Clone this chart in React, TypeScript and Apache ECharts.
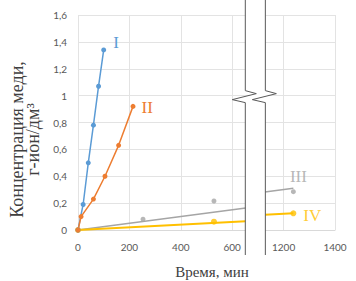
import React, { useEffect, useRef } from "react";
import * as echarts from "echarts";

// Measured points (time in minutes, concentration)
const timeI = [0, 20, 40, 60, 80, 100];
const concI = [0, 0.19, 0.5, 0.78, 1.07, 1.34];
const timeII = [0, 12, 60, 105, 158, 214];
const concII = [0, 0.1, 0.23, 0.4, 0.63, 0.92];
const timeIII = [0, 253, 529, 1238];
const concIII = [0, 0.08, 0.216, 0.285];
const timeIV = [0, 529, 1238];
const concIV = [0, 0.062, 0.124];
// Linear trend lines (start at origin) for III and IV
const trendIIIEnd = [1238, 0.31];
const trendIVEnd = [1238, 0.125];

const seriesNames = ["I", "II", "III", "IV"];
const colors = ["#5B9BD5", "#ED7D31", "#A5A5A5", "#FFC000"];
const xTickLabels = ["0", "200", "400", "600", "1200", "1400"];

// axis break: real time BREAK_FROM..BREAK_TO collapsed to one display point
const BREAK_FROM = 690;
const BREAK_TO = 1090;
const BAND_HALF = 39;

const toDisplay = (t: number) => (t <= BREAK_FROM ? t : t - (BREAK_TO - BREAK_FROM));
const pts = (ts: number[], cs: number[]) => ts.map((t, i) => [toDisplay(t), cs[i]]);
const trend = (end: number[]) => {
  const k = end[1] / end[0];
  return [
    [0, 0],
    [toDisplay(BREAK_FROM), k * BREAK_FROM],
    [toDisplay(BREAK_TO), k * BREAK_TO],
    [toDisplay(end[0]), end[1]],
  ];
};

const serif = "Liberation Serif";

function withLabel(data: number[][], name: string, color: string, position: any, offset: number[]) {
  return data.map((d, i) =>
    i === data.length - 1
      ? {
          value: d,
          label: {
            show: true,
            formatter: name,
            position,
            offset,
            color,
            fontFamily: serif,
            fontSize: 17,
          },
        }
      : { value: d }
  );
}

export default function App() {
  const ref = useRef<HTMLDivElement>(null);
  useEffect(() => {
    const chart = echarts.init(ref.current!, null, { renderer: "svg" });
    const option: any = {
      animation: false,
      backgroundColor: "#fff",
      grid: { left: 78, right: 21, top: 15, bottom: 51 },
      xAxis: {
        type: "value",
        min: 0,
        max: 1000,
        interval: 200,
        axisLine: { show: true, lineStyle: { color: "#d9d9d9" } },
        axisTick: { show: false },
        splitLine: { show: true, lineStyle: { color: "#e3e3e3" } },
        axisLabel: {
          color: "#595959",
          fontSize: 10,
          fontFamily: "Lato",
          margin: 12,
          formatter: (_v: number, i: number) => xTickLabels[i] ?? "",
        },
      },
      yAxis: {
        type: "value",
        min: 0,
        max: 1.6,
        interval: 0.2,
        axisLine: { show: false },
        axisTick: { show: false },
        splitLine: { show: true, lineStyle: { color: "#e3e3e3" } },
        axisLabel: {
          color: "#595959",
          fontSize: 10,
          fontFamily: "Lato",
          margin: 11,
          formatter: (v: number) => String(+v.toFixed(1)).replace(".", ","),
        },
      },
      series: [
        {
          name: seriesNames[0],
          type: "line",
          data: withLabel(pts(timeI, concI), seriesNames[0], colors[0], "right", [2, -7]),
          symbol: "circle",
          symbolSize: 5,
          lineStyle: { color: colors[0], width: 1.5 },
          itemStyle: { color: colors[0] },
        },
        {
          name: seriesNames[1],
          type: "line",
          data: withLabel(pts(timeII, concII), seriesNames[1], colors[1], "right", [1, 1]),
          symbol: "circle",
          symbolSize: 5,
          lineStyle: { color: colors[1], width: 1.5 },
          itemStyle: { color: colors[1] },
        },
        {
          name: seriesNames[2] + " trend",
          type: "line",
          data: trend(trendIIIEnd),
          symbol: "none",
          lineStyle: { color: colors[2], width: 1.5 },
        },
        {
          name: seriesNames[2],
          type: "scatter",
          data: withLabel(pts(timeIII, concIII), seriesNames[2], colors[2], "top", [5, 1]),
          symbolSize: 5,
          itemStyle: { color: colors[2] },
        },
        {
          name: seriesNames[3] + " trend",
          type: "line",
          data: trend(trendIVEnd),
          symbol: "none",
          lineStyle: { color: colors[3], width: 2 },
        },
        {
          name: seriesNames[3],
          type: "scatter",
          data: withLabel(pts(timeIV, concIV), seriesNames[3], colors[3], "right", [2, 2]),
          symbolSize: 6,
          itemStyle: { color: colors[3] },
        },
      ],
    };
    chart.setOption(option);

    const [xl] = chart.convertToPixel({ gridIndex: 0 }, [toDisplay(BREAK_FROM) - BAND_HALF, 0]);
    const [xr] = chart.convertToPixel({ gridIndex: 0 }, [toDisplay(BREAK_FROM) + BAND_HALF, 0]);
    const [, zy] = chart.convertToPixel({ gridIndex: 0 }, [0, 1]);
    const [, y0] = chart.convertToPixel({ gridIndex: 0 }, [0, 0]);
    const bottom = y0 + 25;
    const zig = (x: number) => [
      [x, 0],
      [x, zy - 5],
      [x + 11, zy - 2],
      [x - 13, zy + 4],
      [x, zy + 7],
      [x, bottom],
    ];
    const left = zig(xl);
    const right = zig(xr);
    const plotMidY = (chart.convertToPixel({ gridIndex: 0 }, [0, 0.8]) as number[])[1];

    chart.setOption({
      graphic: [
        {
          type: "polygon",
          z: 100,
          shape: { points: [...left, ...right.slice().reverse()] },
          style: { fill: "#ffffff" },
        },
        {
          type: "polyline",
          z: 101,
          shape: { points: left },
          style: { stroke: "#595959", lineWidth: 1, fill: null },
        },
        {
          type: "polyline",
          z: 101,
          shape: { points: right },
          style: { stroke: "#595959", lineWidth: 1, fill: null },
        },
        {
          type: "text",
          z: 102,
          x: 25,
          y: plotMidY + 17,
          rotation: Math.PI / 2,
          style: {
            text: "Концентрация меди,\nг-ион/дм³",
            fill: "#404040",
            fontFamily: serif,
            fontSize: 18,
            lineHeight: 16,
            align: "center",
            verticalAlign: "middle",
          },
        },
        {
          type: "text",
          z: 102,
          x: 212,
          y: 272,
          style: {
            text: "Время, мин",
            fill: "#404040",
            fontFamily: serif,
            fontSize: 15,
            align: "center",
            verticalAlign: "middle",
          },
        },
      ],
    });
    return () => chart.dispose();
  }, []);
  return (
    <div
      ref={ref}
      style={{ position: "fixed", left: 0, top: 0, width: 356, height: 281 }}
    />
  );
}
